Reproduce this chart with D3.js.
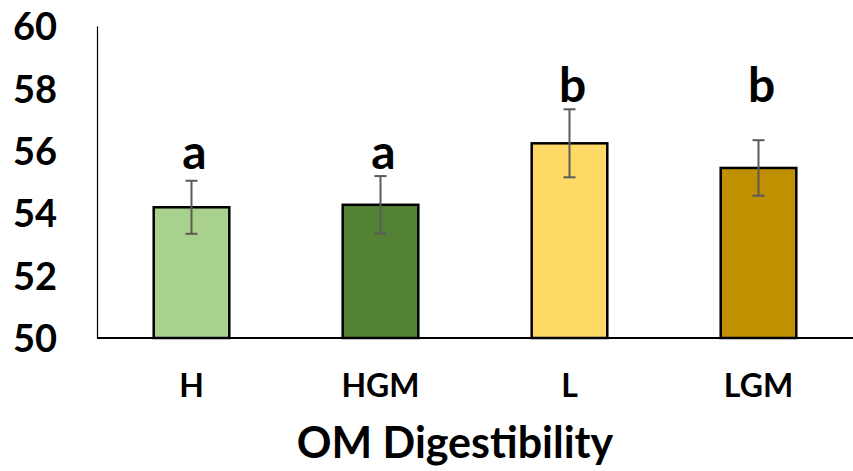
<!DOCTYPE html>
<html>
<head>
<meta charset="utf-8">
<script src="https://cdn.jsdelivr.net/npm/d3@7"></script>
<style>
  body { margin: 0; background: #fff; }
  text { font-family: Lato, "Open Sans", sans-serif; font-weight: bold; fill: #000; }
</style>
</head>
<body>
<div id="chart"></div>
<script>
// values
const categories = ['H', 'HGM', 'L', 'LGM'];
const means = [54.19, 54.27, 56.24, 55.45];
const errors = [0.85, 0.92, 1.09, 0.89];
const letters = ['a', 'a', 'b', 'b'];
const yTicks = [50, 52, 54, 56, 58, 60];
const colors = ['#A9D18E', '#548235', '#FFD966', '#BF9000'];
const xTitle = 'OM Digestibility';

const svgWidth = 853;
const svgHeight = 471;
const margin = { top: 26, right: 0, bottom: 133, left: 97 };
const width = svgWidth - margin.left - margin.right;
const height = svgHeight - margin.top - margin.bottom;

const svg = d3.select('#chart').append('svg')
  .attr('width', svgWidth)
  .attr('height', svgHeight)
  .append('g')
  .attr('transform', `translate(${margin.left},${margin.top})`);

const xScale = d3.scaleBand()
  .domain(categories)
  .range([0, width])
  .paddingInner(0.6)
  .paddingOuter(0.3);

const yScale = d3.scaleLinear()
  .domain([50, 60])
  .range([height, 0]);

// y axis: line only, bold labels
const yAxis = svg.append('g')
  .call(d3.axisLeft(yScale).tickValues(yTicks).tickSize(0).tickPadding(40).tickFormat(d3.format('d')));
yAxis.select('.domain').attr('stroke', '#000').attr('stroke-width', 1.2);
yAxis.selectAll('text')
  .style('font-size', '38px')
  .style('font-family', 'Lato, sans-serif')
  .style('font-weight', 'bold')
  .attr('dy', '0.36em');

const data = categories.map((c, i) => ({ cat: c, mean: means[i], err: errors[i], letter: letters[i], color: colors[i] }));

svg.selectAll('.bar')
  .data(data)
  .enter().append('rect')
  .attr('class', 'bar')
  .attr('x', d => xScale(d.cat))
  .attr('y', d => yScale(d.mean))
  .attr('width', xScale.bandwidth())
  .attr('height', d => height - yScale(d.mean))
  .attr('fill', d => d.color)
  .attr('stroke', '#000')
  .attr('stroke-width', 2.5);

// x axis baseline
svg.append('line')
  .attr('x1', 0)
  .attr('x2', width)
  .attr('y1', height)
  .attr('y2', height)
  .attr('stroke', '#000')
  .attr('stroke-width', 1.8);

// error bars
const capHalf = 6;
const eb = svg.selectAll('.err')
  .data(data)
  .enter().append('g')
  .attr('class', 'err')
  .attr('stroke', '#5a5a5a')
  .attr('stroke-width', 2);
eb.append('line')
  .attr('x1', d => xScale(d.cat) + xScale.bandwidth() / 2)
  .attr('x2', d => xScale(d.cat) + xScale.bandwidth() / 2)
  .attr('y1', d => yScale(d.mean + d.err))
  .attr('y2', d => yScale(d.mean - d.err));
eb.append('line')
  .attr('x1', d => xScale(d.cat) + xScale.bandwidth() / 2 - capHalf)
  .attr('x2', d => xScale(d.cat) + xScale.bandwidth() / 2 + capHalf)
  .attr('y1', d => yScale(d.mean + d.err))
  .attr('y2', d => yScale(d.mean + d.err));
eb.append('line')
  .attr('x1', d => xScale(d.cat) + xScale.bandwidth() / 2 - capHalf)
  .attr('x2', d => xScale(d.cat) + xScale.bandwidth() / 2 + capHalf)
  .attr('y1', d => yScale(d.mean - d.err))
  .attr('y2', d => yScale(d.mean - d.err));

// significance letters, same height within a group
const groupTop = {};
data.forEach(d => {
  groupTop[d.letter] = Math.max(groupTop[d.letter] || 0, d.mean + d.err);
});
svg.selectAll('.letter')
  .data(data)
  .enter().append('text')
  .attr('class', 'letter')
  .attr('x', d => xScale(d.cat) + xScale.bandwidth() / 2 + 3)
  .attr('y', d => yScale(groupTop[d.letter]) - 7)
  .attr('text-anchor', 'middle')
  .style('font-size', '48px')
  .text(d => d.letter);

// category labels
svg.selectAll('.cat')
  .data(data)
  .enter().append('text')
  .attr('class', 'cat')
  .attr('x', d => xScale(d.cat) + xScale.bandwidth() / 2)
  .attr('y', height + 59)
  .attr('text-anchor', 'middle')
  .style('font-size', '32px')
  .text(d => d.cat);

svg.append('text')
  .attr('x', width / 2 - 20)
  .attr('y', height + 120)
  .attr('text-anchor', 'middle')
  .style('font-size', '43px')
  .text(xTitle);
</script>
</body>
</html>
